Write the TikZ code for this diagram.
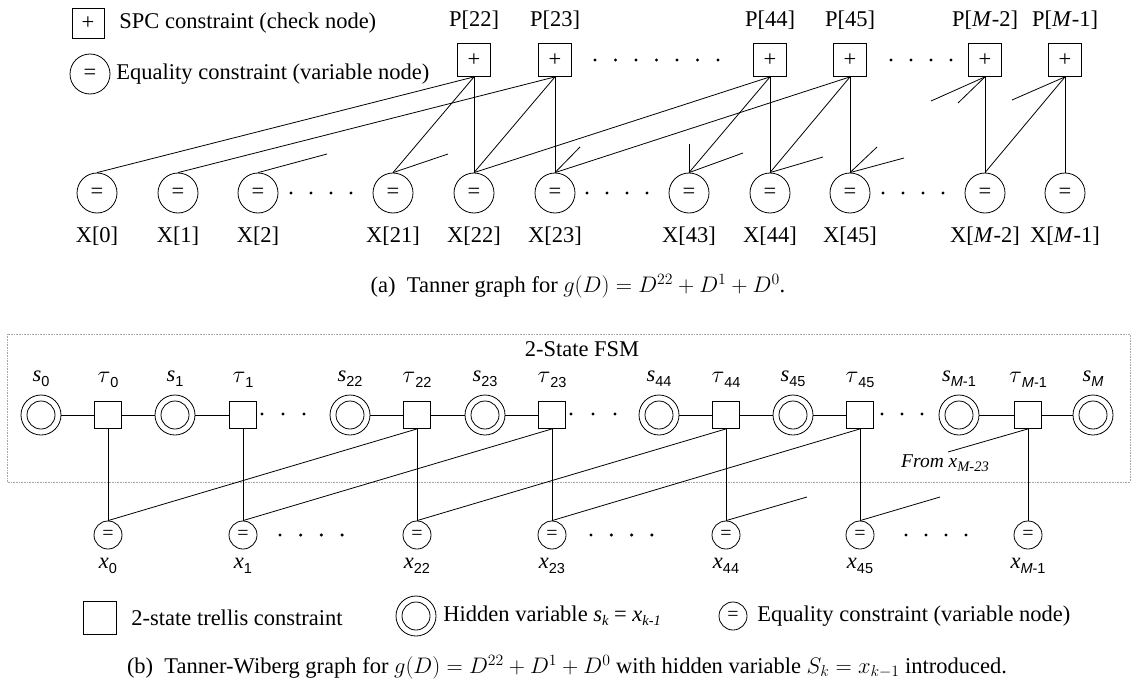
\RequirePackage{fix-cm}
\documentclass[tikz,border=0pt]{standalone}
\usepackage[no-math]{fontspec}
\setmainfont{Liberation Serif}
\setsansfont{Liberation Sans}
\newcommand{\ssub}[1]{\raisebox{-5pt}{\fontsize{14.5}{14.5}\selectfont\sffamily #1}}
\newcommand{\isub}[1]{\raisebox{-4pt}{\fontsize{14.5}{14.5}\selectfont\itshape #1}}
\newcommand{\ttau}{{\fontsize{24}{24}\selectfont$\tau$}}
\tikzset{
  chk/.style={draw, rectangle, minimum size=33pt, inner sep=0pt},
  eqv/.style={draw, circle, minimum size=40pt, inner sep=0pt},
  eqs/.style={draw, circle, minimum size=28pt, inner sep=0pt, font=\fontsize{20}{20}\selectfont},
  hid/.style={draw, circle, minimum size=40pt, inner sep=0pt,
    path picture={\draw[line width=0.8pt] (path picture bounding box.center) circle (14pt);}},
  trel/.style={draw, rectangle, minimum size=27pt, inner sep=0pt},
  lbl/.style={inner sep=0pt},
  dotn/.style={circle, fill, inner sep=0pt, minimum size=3.4pt},
}
\begin{document}
\begin{tikzpicture}[x=1pt, y=-1pt, line width=0.8pt, font=\fontsize{22.5}{25}\selectfont]
\useasboundingbox (0,0) rectangle (1137,685);

% ---------- (a) legend ----------
\node[chk, minimum width=32pt, minimum height=30pt] (legP) at (88,23) {+};
\node[lbl, anchor=west] (legPt) at (119,23) {SPC constraint (check node)};
\node[eqv] (legX) at (90,74) {=};
\node[lbl, anchor=west] (legXt) at (116,74) {Equality constraint (variable node)};

% ---------- (a) check nodes ----------
\foreach \n/\x/\t in {P22/474/{P[22]}, P23/555/{P[23]}, P44/770/{P[44]}, P45/850/{P[45]}, PM2/985/{P[\textit{M}-2]}, PM1/1065/{P[\textit{M}-1]}}{
  \node[chk] (\n) at (\x,60) {+};
  \node[lbl] (l\n) at (\x,20) {\t};
}
% ---------- (a) variable nodes ----------
\foreach \n/\x/\t in {X0/97/{X[0]}, X1/178/{X[1]}, X2/258/{X[2]}, X21/393/{X[21]}, X22/474/{X[22]}, X23/555/{X[23]}, X43/689/{X[43]}, X44/770/{X[44]}, X45/850/{X[45]}, XM2/985/{X[\textit{M}-2]}, XM1/1065/{X[\textit{M}-1]}}{
  \node[eqv] (\n) at (\x,193) {=};
  \node[lbl] (l\n) at (\x,236) {\t};
}
% dots (a)
\foreach \i in {0,...,6}{\node[dotn] (ta\i) at (595+20.5*\i,60) {};}
\foreach \i in {0,...,3}{\node[dotn] (tb\i) at (891+20*\i,60) {};}
\foreach \i in {0,...,3}{\node[dotn] (ba\i) at (291+20*\i,193) {};}
\foreach \i in {0,...,3}{\node[dotn] (bb\i) at (587+20*\i,193) {};}
\foreach \i in {0,...,3}{\node[dotn] (bc\i) at (883+20*\i,193) {};}

% edges (a)
\draw (P22.south) -- (X22.north);
\draw (P22.south) -- (X21.north);
\draw (P22.south) -- (X0.north);
\draw (P23.south) -- (X23.north);
\draw (P23.south) -- (X22.north);
\draw (P23.south) -- (X1.north);
\draw (P44.south) -- (X44.north);
\draw (P44.south) -- (X43.north);
\draw (P44.south) -- (X22.north);
\draw (P45.south) -- (X45.north);
\draw (P45.south) -- (X44.north);
\draw (P45.south) -- (X23.north);
\draw (PM2.south) -- (XM2.north);
\draw (PM1.south) -- (XM1.north);
\draw (PM1.south) -- (XM2.north);
% stubs (a)
\coordinate (s1) at (327,154);
\coordinate (s2) at (448,154);
\coordinate (s3) at (580,147);
\coordinate (s4) at (689,144);
\coordinate (s5) at (743,153);
\coordinate (s6) at (823,157);
\coordinate (s7) at (877,147);
\coordinate (s8) at (904,158);
\coordinate (s9) at (931,101);
\coordinate (s10) at (958,103);
\coordinate (s11) at (1012,100);
\draw (X2.north) -- (s1);
\draw (X21.north) -- (s2);
\draw (X23.north) -- (s3);
\draw (X43.north) -- (s4);
\draw (X43.north) -- (s5);
\draw (X44.north) -- (s6);
\draw (X45.north) -- (s7);
\draw (X45.north) -- (s8);
\draw (PM2.south) -- (s9);
\draw (PM2.south) -- (s10);
\draw (PM1.south) -- (s11);

\node[lbl] (capa) at (578,286) {(a)\ \ Tanner\ graph\ for\ $g(D) = D^{22} + D^1 + D^0$.};

% ---------- (b) ----------
\draw[densely dotted, gray!70, line width=0.6pt] (7,334) rectangle (1130,482);
\node[lbl] (fsm) at (582,349) {2-State FSM};

\foreach \n/\x/\t in {s0/41/0, s1/175/1, s22/350/22, s23/485/23, s44/659/44, s45/793/45, sM1/959/{\textit{M}-1}, sM/1093/{\textit{M}}}{
  \node[hid] (\n) at (\x,415) {};
  \node[lbl] (l\n) at (\x,379) {\textit{s}\ssub{\t}};
}
\foreach \n/\x/\t in {t0/108/0, t1/243/1, t22/417/22, t23/552/23, t44/726/44, t45/860/45, tM1/1028/{\textit{M}-1}}{
  \node[trel] (\n) at (\x,415) {};
  \node[lbl] (l\n) at (\x,380) {\ttau\ssub{\t}};
}
\foreach \n/\x/\t in {x0/108/0, x1/243/1, x22/417/22, x23/552/23, x44/726/44, x45/860/45, xM1/1028/{\textit{M}-1}}{
  \node[eqs] (\n) at (\x,535) {=};
  \node[lbl] (l\n) at (\x,566) {\textit{x}\ssub{\t}};
}
% dots (b)
\foreach \i in {0,...,2}{\node[dotn] (ua\i) at (262+21*\i,414) {};}
\foreach \i in {0,...,2}{\node[dotn] (ub\i) at (571+22*\i,414) {};}
\foreach \i in {0,...,2}{\node[dotn] (uc\i) at (882+20*\i,414) {};}
\foreach \i in {0,...,3}{\node[dotn] (la\i) at (280+20.7*\i,535) {};}
\foreach \i in {0,...,3}{\node[dotn] (lb\i) at (591+20.3*\i,535) {};}
\foreach \i in {0,...,3}{\node[dotn] (lc\i) at (906+20*\i,535) {};}

% chain edges
\draw (s0) -- (t0) -- (s1) -- (t1);
\draw (s22) -- (t22) -- (s23) -- (t23);
\draw (s44) -- (t44) -- (s45) -- (t45);
\draw (sM1) -- (tM1) -- (sM);
% vertical edges
\foreach \k in {0,1,22,23,44,45,M1}{\draw (t\k.south) -- (x\k.north);}
% diagonal edges
\draw (t22.south) -- (x0.north);
\draw (t23.south) -- (x1.north);
\draw (t44.south) -- (x22.north);
\draw (t45.south) -- (x23.north);
\coordinate (u1) at (807,497);
\coordinate (u2) at (940,497);
\coordinate (u3) at (948,452);
\draw (x44.north) -- (u1);
\draw (x45.north) -- (u2);
\draw (tM1.south) -- (u3);
\node[lbl, font=\fontsize{19.5}{20}\selectfont\itshape] (from) at (945,463) {From x\isub{M-23}};

% legend (b)
\node[trel, minimum size=33pt] (legT) at (100,618) {};
\node[lbl, anchor=west] (legTt) at (131,618) {2-state trellis constraint};
\node[hid] (legS) at (416,616) {};
\node[lbl, anchor=west] (legSt) at (443,616) {Hidden variable \textit{s}\isub{k} = \textit{x}\isub{k-1}};
\node[eqs] (legE) at (733,616) {=};
\node[lbl, anchor=west] (legEt) at (757,616) {Equality constraint (variable node)};

\node[lbl] (capb) at (567,667) {(b)\ \ Tanner-Wiberg graph for $g(D) = D^{22} + D^1 + D^0$ with hidden variable $S_k = x_{k-1}$ introduced.};
\end{tikzpicture}
\end{document}
